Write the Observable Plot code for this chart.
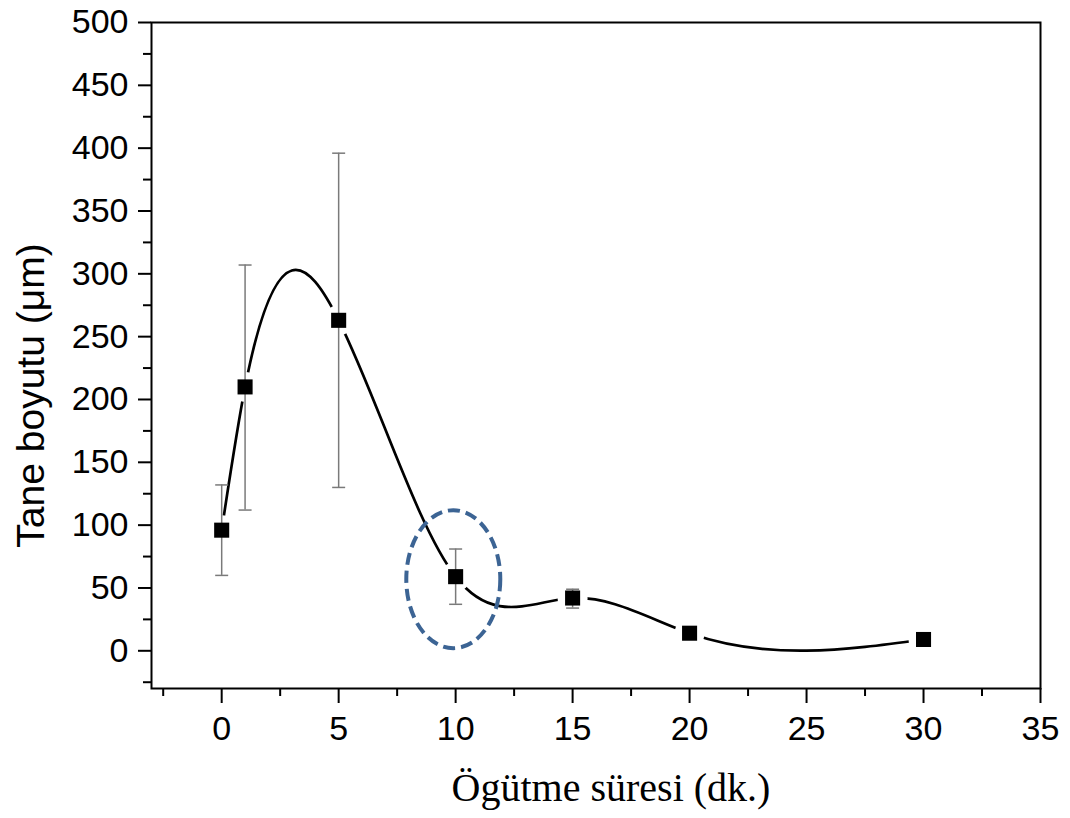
<!DOCTYPE html>
<html><head><meta charset="utf-8">
<script src="https://cdn.jsdelivr.net/npm/d3@7"></script>
<script src="https://cdn.jsdelivr.net/npm/@observablehq/plot@0.6"></script>
<style>body{margin:0;background:#fff;} #chart{width:1070px;height:818px;}</style>
</head><body><div id="chart"></div>
<script>
const times = [0, 1, 5, 10, 15, 20, 30];
const sizes = [96, 210, 263, 59, 42, 14, 9];
const errLow = [60, 112, 130, 37, 34, null, null];
const errHigh = [132, 307, 396, 81, 49, null, null];
const highlight = [{x: 9.9, y: 57}];
const xTicks = [0, 5, 10, 15, 20, 25, 30, 35];
const yTicks = [0, 50, 100, 150, 200, 250, 300, 350, 400, 450, 500];
const xMinor = [-2.5, 2.5, 7.5, 12.5, 17.5, 22.5, 27.5, 32.5];
const yMinor = [-25, 25, 75, 125, 175, 225, 275, 325, 375, 425, 475];
const xTitle = "Ögütme süresi (dk.)";
const yTitle = "Tane boyutu (μm)";

const data = times.map((t, i) => ({x: t, y: sizes[i], lo: errLow[i], hi: errHigh[i]}));
const errData = data.filter(d => d.lo != null);

// Curve factory: natural cubic spline of y as a function of x (as in Origin's "Spline" connection)
function NaturalX(context) { this._context = context; }
NaturalX.prototype = {
  areaStart() {}, areaEnd() {},
  lineStart() { this._x = []; this._y = []; },
  point(x, y) { this._x.push(+x); this._y.push(+y); },
  lineEnd() {
    const ctx = this._context, x = this._x, y = this._y, n = x.length;
    if (!n) return;
    ctx.moveTo(x[0], y[0]);
    if (n === 1) return;
    if (n === 2) { ctx.lineTo(x[1], y[1]); return; }
    const h = [];
    for (let i = 0; i < n - 1; i++) h.push(x[i + 1] - x[i]);
    const M = new Array(n).fill(0);
    const m = n - 2, a = [], b = [], c = [], d = [];
    for (let i = 1; i <= m; i++) {
      a.push(h[i - 1]); b.push(2 * (h[i - 1] + h[i])); c.push(h[i]);
      d.push(6 * ((y[i + 1] - y[i]) / h[i] - (y[i] - y[i - 1]) / h[i - 1]));
    }
    for (let i = 1; i < m; i++) {
      const w = a[i] / b[i - 1];
      b[i] -= w * c[i - 1]; d[i] -= w * d[i - 1];
    }
    const sol = new Array(m);
    sol[m - 1] = d[m - 1] / b[m - 1];
    for (let i = m - 2; i >= 0; i--) sol[i] = (d[i] - c[i] * sol[i + 1]) / b[i];
    for (let i = 0; i < m; i++) M[i + 1] = sol[i];
    for (let i = 0; i < n - 1; i++) {
      const hi = h[i], s = (y[i + 1] - y[i]) / hi;
      const d0 = s - hi * (2 * M[i] + M[i + 1]) / 6;
      const d1 = s + hi * (M[i] + 2 * M[i + 1]) / 6;
      ctx.bezierCurveTo(x[i] + hi / 3, y[i] + d0 * hi / 3, x[i + 1] - hi / 3, y[i + 1] - d1 * hi / 3, x[i + 1], y[i + 1]);
    }
  }
};
const curveNaturalX = context => new NaturalX(context);

const capSymbol = {draw(ctx) { ctx.moveTo(-6.5, 0); ctx.lineTo(6.5, 0); }};
const ellipseSymbol = {draw(ctx) {
  const rx = 47, ry = 69, k = 0.5523;
  ctx.moveTo(rx, 0);
  ctx.bezierCurveTo(rx, ry * k, rx * k, ry, 0, ry);
  ctx.bezierCurveTo(-rx * k, ry, -rx, ry * k, -rx, 0);
  ctx.bezierCurveTo(-rx, -ry * k, -rx * k, -ry, 0, -ry);
  ctx.bezierCurveTo(rx * k, -ry, rx, -ry * k, rx, 0);
  ctx.closePath();
}};

const chart = Plot.plot({
  width: 1070,
  height: 818,
  marginLeft: 151,
  marginRight: 30,
  marginTop: 22,
  marginBottom: 130,
  style: {fontFamily: "'Liberation Sans', Arial, sans-serif", fontSize: "34px", background: "#fff", color: "#000"},
  x: {domain: [-3, 35]},
  y: {domain: [-30, 500]},
  marks: [
    Plot.line(data, {x: "x", y: "y", curve: curveNaturalX, stroke: "#000", strokeWidth: 2.7}),
    Plot.dot(data, {x: "x", y: "y", r: 15, fill: "#fff", stroke: null}),
    Plot.dot(highlight, {x: "x", y: "y", symbol: ellipseSymbol, r: 10, fill: "none", stroke: "#3c6494", strokeWidth: 4, strokeDasharray: "12,6"}),
    Plot.ruleX(errData, {x: "x", y1: "lo", y2: "hi", stroke: "#7a7a7a", strokeWidth: 1.5}),
    Plot.dot(errData, {x: "x", y: "lo", symbol: capSymbol, stroke: "#7a7a7a", strokeWidth: 1.5}),
    Plot.dot(errData, {x: "x", y: "hi", symbol: capSymbol, stroke: "#7a7a7a", strokeWidth: 1.5}),
    Plot.dot(data, {x: "x", y: "y", symbol: "square", r: 8.5, fill: "#000", stroke: null}),
    Plot.frame({stroke: "#000", strokeWidth: 2}),
    Plot.axisX({ticks: xTicks, tickSize: 15, tickPadding: 12, tickFormat: d => String(d), label: null, strokeWidth: 2, fontSize: 34}),
    Plot.axisX({ticks: xMinor, tickSize: 8, tickFormat: () => "", label: null, strokeWidth: 2}),
    Plot.axisY({ticks: yTicks, tickSize: 13, tickPadding: 10, tickFormat: d => String(d), label: null, strokeWidth: 2, fontSize: 34}),
    Plot.axisY({ticks: yMinor, tickSize: 8, tickFormat: () => "", label: null, strokeWidth: 2}),
    Plot.text([xTitle], {frameAnchor: "bottom", dx: 15, dy: 112, lineAnchor: "bottom", fontFamily: "'Liberation Serif', 'Times New Roman', serif", fontSize: 40, fill: "#000"}),
    Plot.text([yTitle], {frameAnchor: "left", textAnchor: "middle", dx: -108, dy: 40, rotate: -90, lineAnchor: "bottom", fontSize: 39, fill: "#000"})
  ]
});
document.getElementById("chart").appendChild(chart);
</script>
</body></html>
